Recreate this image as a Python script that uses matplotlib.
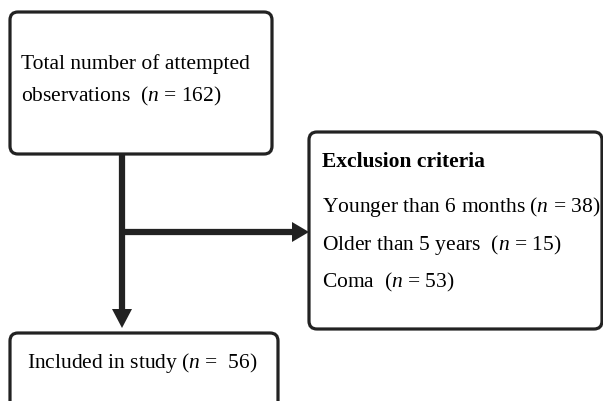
import matplotlib.pyplot as plt
from matplotlib.patches import FancyBboxPatch, Polygon

plt.rcParams['font.family'] = ['Liberation Serif', 'DejaVu Serif']
plt.rcParams['mathtext.fontset'] = 'custom'
plt.rcParams['mathtext.rm'] = 'Liberation Serif'
plt.rcParams['mathtext.it'] = 'Liberation Serif:italic'
plt.rcParams['mathtext.bf'] = 'Liberation Serif:bold'

# Flow chart content
total_n = 162
exclusions = ["Younger than 6 months", "Older than 5 years", "Coma"]
exclusion_n = [38, 15, 53]
included_n = 56

EDGE = '#222222'
FS = 15.5

fig = plt.figure(figsize=(6.03, 4.02), dpi=100)
ax = fig.add_axes([0, 0, 1, 1])
ax.set_xlim(0, 603)
ax.set_ylim(402, 0)
ax.axis('off')


def box(x0, y0, x1, y1):
    p = FancyBboxPatch((x0, y0), x1 - x0, y1 - y0,
                       boxstyle="round,pad=0,rounding_size=8",
                       fc='white', ec=EDGE, lw=2.3, zorder=2)
    ax.add_patch(p)


# boxes
box(10, 13, 272, 155)
box(309, 133, 602, 330)
box(10, 334, 278, 420)

# vertical arrow
ax.plot([122, 122], [155, 312], color=EDGE, lw=4.5, solid_capstyle='butt', zorder=1)
ax.add_patch(Polygon([[112, 310], [132, 310], [122, 329]], closed=True,
                     fc=EDGE, ec='none', zorder=3))

# horizontal arrow
ax.plot([122, 294], [233, 233], color=EDGE, lw=4.5, solid_capstyle='butt', zorder=1)
ax.add_patch(Polygon([[292, 223], [292, 243], [309, 233]], closed=True,
                     fc=EDGE, ec='none', zorder=3))

# texts
ax.text(21, 69, "Total number of attempted", fontsize=FS, va='baseline', zorder=4)
ax.text(21, 101, "observations  ($n$ = %d)" % total_n, fontsize=FS, va='baseline', zorder=4)

ax.text(322, 167, "Exclusion criteria", fontsize=FS, fontweight='bold', va='baseline', zorder=4)
ys = [212, 250, 287]
for lab, n, y in zip(exclusions, exclusion_n, ys):
    sep = " " if lab.startswith("Younger") else "  "
    ax.text(322, y, "%s%s($n$ = %d)" % (lab, sep, n), fontsize=FS, va='baseline', zorder=4)

ax.text(27, 368, "Included in study ($n$ =  %d)" % included_n, fontsize=FS, va='baseline', zorder=4)

fig.savefig('out.png', dpi=100)
